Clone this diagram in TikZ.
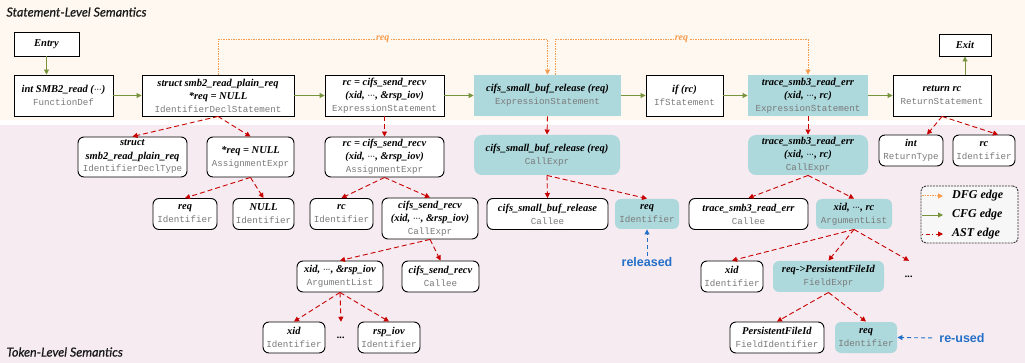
\documentclass[tikz,border=0pt]{standalone}
\usepackage{fontspec}
\setmainfont{Liberation Serif}
\setmonofont{Liberation Mono}
\newfontfamily\titlefont[FakeBold=0.7]{Lato}
\newfontfamily\notefont{Liberation Sans}
\usetikzlibrary{arrows.meta}

\definecolor{creambg}{HTML}{FEF8F0}
\definecolor{pinkbg}{HTML}{F5EBF1}
\definecolor{tealbg}{HTML}{ADD8DC}
\definecolor{cfggreen}{HTML}{77933C}
\definecolor{dfgorange}{HTML}{F79A4C}
\definecolor{astred}{HTML}{C80000}
\definecolor{noteblue}{HTML}{2470C8}
\definecolor{typegray}{HTML}{7A7A7A}

\newcommand{\lbl}[1]{\textbf{\textit{#1}}}
\newcommand{\astkind}[1]{{\ttfamily\fontsize{9.2}{13}\selectfont\color{typegray}#1}}
\newcommand{\ellip}{\ensuremath{\mathord{\cdot}\mkern-1mu\mathord{\cdot}\mkern-1mu\mathord{\cdot}}}

\tikzset{
    stmtbox/.style={draw=black, line width=0.9pt, fill=white, align=center, inner sep=0pt, minimum height=41pt},
    stmthl/.style={stmtbox, draw=none, fill=tealbg},
    tokbox/.style={draw=black, line width=0.9pt, fill=white, rounded corners=6pt, align=center, inner sep=0pt, minimum height=31pt},
    tokhl/.style={tokbox, draw=none, fill=tealbg},
    gapdots/.style={inner sep=0pt, minimum height=31pt},
    cfg/.style={draw=cfggreen, line width=0.9pt, -{Triangle[length=5pt, width=5pt]}},
    dfg/.style={draw=dfgorange, line width=1pt, dash pattern=on 1.5pt off 1pt, -{Triangle[length=5pt, width=5pt]}},
    ast/.style={draw=astred, line width=0.9pt, dash pattern=on 5pt off 3pt, -{Triangle[length=5pt, width=5pt]}},
    note/.style={draw=noteblue, line width=0.9pt, dash pattern=on 4pt off 3pt, -{Triangle[length=5pt, width=5pt]}},
    reqlbl/.style={fill=creambg, text=dfgorange, inner sep=1pt, font=\bfseries\itshape\fontsize{10}{12}\selectfont},
    notelbl/.style={text=noteblue, inner sep=1pt, font=\notefont\bfseries\fontsize{12.5}{14}\selectfont},
    legtext/.style={anchor=west, inner sep=0pt, font=\bfseries\itshape\fontsize{12}{14}\selectfont},
    leveltitle/.style={anchor=west, text=black!90, font=\titlefont\itshape\fontsize{12.5}{14}\selectfont},
}

\begin{document}
\begin{tikzpicture}[x=1pt, y=-1pt, font=\fontsize{10.5}{13}\selectfont]
    \useasboundingbox (0,0) rectangle (1025,363);

    % Hintergrund
    \fill[creambg] (0,0) rectangle (1025,120);
    \fill[pinkbg] (0,125) rectangle (1025,363);
    \node[leveltitle] (toptitle) at (3,12) {Statement-Level Semantics};
    \node[leveltitle] (bottitle) at (3,352) {Token-Level Semantics};

    % Statements
    \node[stmtbox, minimum width=65pt, minimum height=24pt] (entry) at (46.5,44) {\lbl{Entry}};
    \node[stmtbox, minimum width=99pt] (fundef) at (63.5,95.5) {\lbl{int SMB2\_read (\ellip)}\\\astkind{FunctionDef}};
    \node[stmtbox, minimum width=152pt] (decl) at (218,95.5) {\lbl{struct smb2\_read\_plain\_req}\\\lbl{*req = NULL}\\\astkind{IdentifierDeclStatement}};
    \node[stmtbox, minimum width=119pt] (recv) at (384.5,95.5) {\lbl{rc = cifs\_send\_recv}\\\lbl{(xid, \ellip, \&rsp\_iov)}\\\astkind{ExpressionStatement}};
    \node[stmthl, minimum width=147pt] (release) at (547.5,95.5) {\lbl{cifs\_small\_buf\_release (req)}\\\astkind{ExpressionStatement}};
    \node[stmtbox, minimum width=77pt] (ifrc) at (684.5,95.5) {\lbl{if (rc)}\\\astkind{IfStatement}};
    \node[stmthl, minimum width=120pt] (trace) at (808,95.5) {\lbl{trace\_smb3\_read\_err}\\\lbl{(xid, \ellip, rc)}\\\astkind{ExpressionStatement}};
    \node[stmtbox, minimum width=98pt] (ret) at (942,95.5) {\lbl{return rc}\\\astkind{ReturnStatement}};
    \node[stmtbox, minimum width=52pt, minimum height=22pt] (exit) at (965,45) {\lbl{Exit}};

    % CFG
    \draw[cfg] (entry.south) -- (entry.south |- fundef.north);
    \draw[cfg] (fundef) -- (decl);
    \draw[cfg] (decl) -- (recv);
    \draw[cfg] (recv) -- (release);
    \draw[cfg] (release) -- (ifrc);
    \draw[cfg] (ifrc) -- (trace);
    \draw[cfg] (trace) -- (ret);
    \draw[cfg] (exit.south |- ret.north) -- (exit.south);

    % DFG
    \draw[dfg] (decl.north) -- ++(0,-35) -| node[pos=0.25, reqlbl] {req} (release.north);
    \draw[dfg] ([xshift=7.5pt]release.north) -- ++(0,-35) -| node[pos=0.25, reqlbl] {req} (trace.north);

    % Tokens, Ebene 1
    \node[tokbox, minimum width=109pt, minimum height=40pt] (decltype) at (132.5,157) {\lbl{struct}\\\lbl{smb2\_read\_plain\_req}\\\astkind{IdentifierDeclType}};
    \node[tokbox, minimum width=87pt, minimum height=40pt] (assignreq) at (250.5,157) {\lbl{*req = NULL}\\\astkind{AssignmentExpr}};
    \node[tokbox, minimum width=119pt, minimum height=40pt] (assignrc) at (384.5,157) {\lbl{rc = cifs\_send\_recv}\\\lbl{(xid, \ellip, \&rsp\_iov)}\\\astkind{AssignmentExpr}};
    \node[tokhl, minimum width=146pt, minimum height=40pt, rounded corners=8pt] (callrelease) at (547,155) {\lbl{cifs\_small\_buf\_release (req)}\\\astkind{CallExpr}};
    \node[tokhl, minimum width=120pt, minimum height=40pt, rounded corners=8pt] (calltrace) at (808,155) {\lbl{trace\_smb3\_read\_err}\\\lbl{(xid, \ellip, rc)}\\\astkind{CallExpr}};
    \node[tokbox, minimum width=64pt] (rettype) at (911,150.5) {\lbl{int}\\\astkind{ReturnType}};
    \node[tokbox, minimum width=62pt] (retid) at (984,150.5) {\lbl{rc}\\\astkind{Identifier}};

    % Tokens, Ebene 2
    \node[tokbox, minimum width=64pt] (idreq) at (185,214) {\lbl{req}\\\astkind{Identifier}};
    \node[tokbox, minimum width=61pt] (idnull) at (263.5,214) {\lbl{NULL}\\\astkind{Identifier}};
    \node[tokbox, minimum width=63pt] (idrc) at (341.5,214) {\lbl{rc}\\\astkind{Identifier}};
    \node[tokbox, minimum width=96pt, minimum height=41pt] (callrecv) at (430,218.5) {\lbl{cifs\_send\_recv}\\\lbl{(xid, \ellip, \&rsp\_iov)}\\\astkind{CallExpr}};
    \node[tokbox, minimum width=121pt] (calleerelease) at (547.5,214) {\lbl{cifs\_small\_buf\_release}\\\astkind{Callee}};
    \node[tokhl, minimum width=64pt, minimum height=30pt] (relreq) at (647,214) {\lbl{req}\\\astkind{Identifier}};
    \node[tokbox, minimum width=119pt] (calleetrace) at (748.5,214) {\lbl{trace\_smb3\_read\_err}\\\astkind{Callee}};
    \node[tokhl, minimum width=76pt, minimum height=30pt] (argstrace) at (854,214) {\lbl{xid, \ellip, rc}\\\astkind{ArgumentList}};

    % Tokens, Ebene 3
    \node[tokbox, minimum width=86pt] (argsrecv) at (340,276.5) {\lbl{xid, \ellip, \&rsp\_iov}\\\astkind{ArgumentList}};
    \node[tokbox, minimum width=77pt] (calleerecv) at (440.5,276.5) {\lbl{cifs\_send\_recv}\\\astkind{Callee}};
    \node[tokbox, minimum width=62pt] (idxidb) at (732,276.5) {\lbl{xid}\\\astkind{Identifier}};
    \node[tokhl, minimum width=111pt] (fieldexpr) at (828.5,276.5) {\lbl{req->PersistentFileId}\\\astkind{FieldExpr}};
    \node[gapdots] (moreb) at (909,276.5) {\lbl{...}};

    % Tokens, Ebene 4
    \node[tokbox, minimum width=62pt] (idxida) at (294,337.5) {\lbl{xid}\\\astkind{Identifier}};
    \node[gapdots] (morea) at (341,337.5) {\lbl{...}};
    \node[tokbox, minimum width=62pt] (idrsp) at (389,337.5) {\lbl{rsp\_iov}\\\astkind{Identifier}};
    \node[tokbox, minimum width=94pt] (fieldid) at (777,337.5) {\lbl{PersistentFileId}\\\astkind{FieldIdentifier}};
    \node[tokhl, minimum width=62pt] (reusedreq) at (866,337.5) {\lbl{req}\\\astkind{Identifier}};

    % AST
    \draw[ast] (decl.south) -- (decltype.north);
    \draw[ast] (decl.south) -- (assignreq.north);
    \draw[ast] (recv.south) -- (assignrc.north);
    \draw[ast] (release.south) -- (callrelease.north);
    \draw[ast] (trace.south) -- (calltrace.north);
    \draw[ast] (ret.south) -- ([xshift=16pt]rettype.north);
    \draw[ast] (ret.south) -- ([xshift=14pt]retid.north);
    \draw[ast] (assignreq.south) -- (idreq.north);
    \draw[ast] (assignreq.south) -- (idnull.north);
    \draw[ast] (assignrc.south) -- (idrc.north);
    \draw[ast] (assignrc.south) -- (callrecv.north);
    \draw[ast] (callrelease.south) -- (calleerelease.north);
    \draw[ast] (callrelease.south) -- (relreq.north);
    \draw[ast] (calltrace.south) -- (calleetrace.north);
    \draw[ast] (calltrace.south) -- (argstrace.north);
    \draw[ast] (callrecv.south) -- (argsrecv.north);
    \draw[ast] (callrecv.south) -- (calleerecv.north);
    \draw[ast] (argsrecv.south) -- (idxida.north);
    \draw[ast] (argsrecv.south) -- (morea.north);
    \draw[ast] (argsrecv.south) -- (idrsp.north);
    \draw[ast] (argstrace.south) -- (idxidb.north);
    \draw[ast] (argstrace.south) -- (fieldexpr.north);
    \draw[ast] (argstrace.south) -- (moreb.north);
    \draw[ast] (fieldexpr.south) -- (fieldid.north);
    \draw[ast] (fieldexpr.south) -- (reusedreq.north);

    % Hinweise
    \node[notelbl] (released) at (647,262) {released};
    \draw[note] (released.north) -- (relreq.south);
    \node[notelbl] (reused) at (962,338) {re-used};
    \draw[note, shorten <=6pt] (reused.west) -- (reusedreq.east);

    % Legende
    \node[draw=black!80, line width=0.9pt, dash pattern=on 2pt off 1pt, rounded corners=5pt, fill=gray!6, minimum width=97pt, minimum height=57pt] (legend) at (969.5,214.5) {};
    \node[legtext] (legdfg) at (952,196) {DFG edge};
    \node[legtext] (legcfg) at (952,215) {CFG edge};
    \node[legtext] (legast) at (952,234) {AST edge};
    \draw[dfg] ([xshift=-30pt]legdfg.west) -- ([xshift=-9pt]legdfg.west);
    \draw[cfg] ([xshift=-30pt]legcfg.west) -- ([xshift=-9pt]legcfg.west);
    \draw[ast, dash pattern=on 1pt off 2.5pt on 4pt off 2.5pt] ([xshift=-30pt]legast.west) -- ([xshift=-9pt]legast.west);
\end{tikzpicture}
\end{document}
